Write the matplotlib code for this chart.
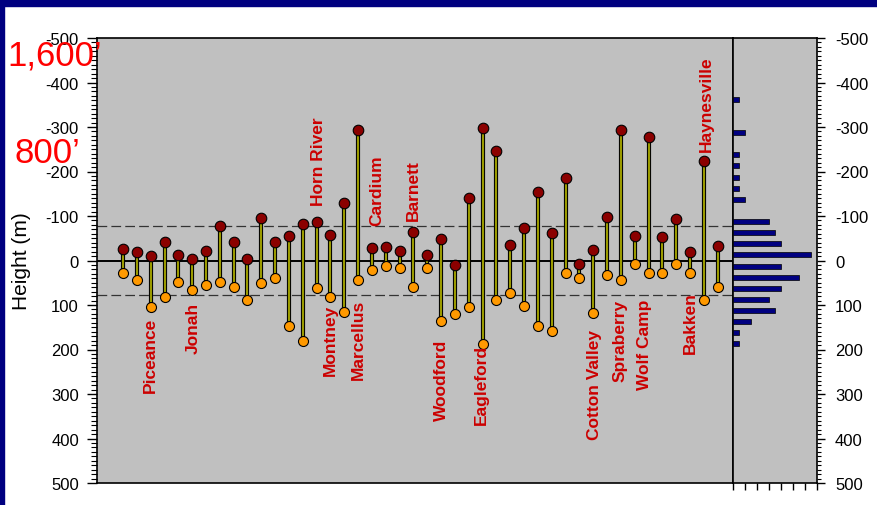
import matplotlib
matplotlib.use('Agg')
import matplotlib.pyplot as plt
from matplotlib.patches import Rectangle
from matplotlib.ticker import MultipleLocator, NullFormatter

plt.rcParams['font.family'] = ['Liberation Sans', 'DejaVu Sans']
plt.rcParams['axes.unicode_minus'] = False
plt.rcParams['lines.scale_dashes'] = False

# ---- data (metres; negative = upward) ----
top_vals = [-26, -18, -9, -42, -12, -3, -22, -78, -42, -3,
            -95, -42, -54, -82, -87, -57, -129, -293, -28, -30,
            -22, -65, -12, -48, 9, -140, -298, -247, -34, -73,
            -153, -62, -185, 8, -24, -98, -293, -54, -277, -53,
            -93, -18, -224, -33]
bottom_vals = [27, 44, 104, 81, 49, 66, 55, 48, 59, 89,
               51, 40, 147, 182, 62, 81, 115, 43, 22, 12,
               16, 59, 16, 135, 120, 104, 188, 89, 74, 103,
               147, 158, 28, 39, 118, 33, 43, 8, 28, 28,
               8, 28, 89, 59]
hist_centers = [-362.5, -287.5, -237.5, -212.5, -187.5, -162.5, -137.5,
                -87.5, -62.5, -37.5, -12.5, 12.5, 37.5, 62.5, 87.5,
                112.5, 137.5, 162.5, 187.5]
hist_counts = [1, 2, 1, 1, 1, 1, 2, 6, 7, 8, 13, 8, 11, 8, 6, 7, 3, 1, 1]
band_limit = 77

play_names = ['Piceance', 'Jonah', 'Horn River', 'Montney', 'Marcellus',
              'Cardium', 'Barnett', 'Woodford', 'Eagleford', 'Cotton Valley',
              'Spraberry', 'Wolf Camp', 'Bakken', 'Haynesville']
# annotation anchors (x in stem units, y = top edge of rotated label)
play_x = [1.95, 5.06, 14.1, 14.97, 17.0, 18.37, 20.97, 23.0, 25.9, 34.1,
          35.9, 37.7, 41.0, 42.2]
play_y = [127, 93, -325, 98, 86, -239, -228, 176, 188, 154, 86, 86, 68, -460]

W, H = 877, 506
fig = plt.figure(figsize=(W / 100, H / 100), dpi=100)
fig.patch.set_facecolor('white')
fig.patches.append(Rectangle((0, 1 - 7 / H), 1, 7 / H, transform=fig.transFigure,
                             color='#000080', zorder=0))
fig.patches.append(Rectangle((0, 0), 4 / W, 1, transform=fig.transFigure,
                             color='#000080', zorder=0))

ax = fig.add_axes([97 / W, 1 - 484 / H, (733 - 97) / W, (484 - 39) / H])
axh = fig.add_axes([733 / W, 1 - 484 / H, (817 - 733) / W, (484 - 39) / H])

for a in (ax, axh):
    a.set_facecolor('#c0c0c0')
    for s in a.spines.values():
        s.set_linewidth(1.2)
        s.set_color('black')
    a.set_ylim(500, -500)
    a.yaxis.set_major_locator(MultipleLocator(100))
    a.yaxis.set_minor_locator(MultipleLocator(10))

x = list(range(len(top_vals)))
ax.set_xlim(-1.88, 44.1)
ax.axhline(0, color='black', lw=1.4, zorder=2)
for v in (-band_limit, band_limit):
    ax.axhline(v, color='#333333', lw=0.9, dashes=(7, 3), zorder=2)

ax.vlines(x, top_vals, bottom_vals, color='black', lw=3.0, zorder=3)
ax.vlines(x, top_vals, bottom_vals, color='#9a9a00', lw=1.5, zorder=4)
ax.plot(x, bottom_vals, 'o', ms=7.2, mfc='#ff9900', mec='black', mew=0.8,
        ls='none', zorder=5)
ax.plot(x, top_vals, 'o', ms=7.6, mfc='#8b0000', mec='black', mew=0.8,
        ls='none', zorder=6)

for name, px, py in zip(play_names, play_x, play_y):
    ax.text(px, py, name, rotation=90, ha='center', va='top', color='#cc0000',
            fontsize=12.5, fontweight='bold', zorder=7)

ax.set_xticks([])
ax.tick_params(axis='y', which='major', direction='out', length=7, width=1,
               labelsize=12, pad=6)
ax.tick_params(axis='y', which='minor', direction='out', length=4, width=0.8)

axh.barh(hist_centers, hist_counts, height=11, color='#000080',
         edgecolor='black', linewidth=0.5, zorder=3)
axh.set_xlim(0, 14)
axh.set_xticks(range(0, 15, 2))
axh.xaxis.set_major_formatter(NullFormatter())
axh.tick_params(axis='x', direction='out', length=5, width=1)
axh.yaxis.tick_right()
axh.tick_params(axis='y', which='major', direction='out', length=6, width=1,
                labelsize=12, pad=7)
axh.tick_params(axis='y', which='minor', direction='out', length=3, width=0.8)

fig.text(22 / W, 1 - 261 / H, 'Height (m)', rotation=90, ha='center',
         va='center', fontsize=15)
fig.text(7 / W, 1 - 65 / H, '1,600\u2019', color='#ff0000', fontsize=25,
         ha='left', va='baseline', zorder=10)
fig.text(14 / W, 1 - 163 / H, '800\u2019', color='#ff0000', fontsize=25,
         ha='left', va='baseline', zorder=10)

fig.savefig('out.png', dpi=100)
